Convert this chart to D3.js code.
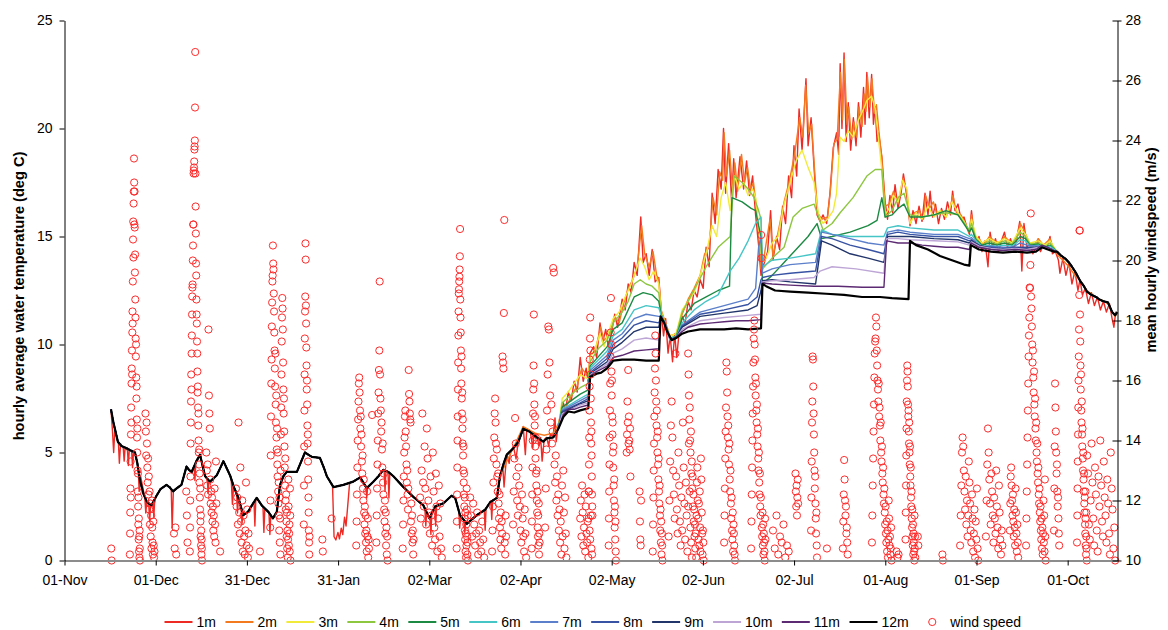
<!DOCTYPE html>
<html>
<head>
<meta charset="utf-8">
<script src="https://cdn.jsdelivr.net/npm/d3@7"></script>
<style>
  body { margin: 0; background: #fff; }
  text { font-family: "Liberation Sans", Arial, sans-serif; }
</style>
</head>
<body>
<svg id="chart" width="1168" height="630"></svg>
<script>
// ---- categories / ticks -------------------------------------------------
const depthNames  = ["1m","2m","3m","4m","5m","6m","7m","8m","9m","10m","11m","12m"];
const depthColors = ["#ee2a24","#f47a20","#f2ea3a","#8dc63f","#1c8a43","#46c5c6",
                     "#5b7fca","#3853a4","#22356b","#bda6d6","#5c2a72","#000000"];
// days after 01-Nov, one major unit (about a month) apart
const tickDays   = [0,30.42,60.83,91.25,121.67,152.08,182.5,212.92,243.33,273.75,304.17,334.58];
const tickLabels = ["01-Nov","01-Dec","31-Dec","31-Jan","02-Mar","02-Apr","02-May","02-Jun","02-Jul","01-Aug","01-Sep","01-Oct"];
const tempTicks  = [0,5,10,15,20,25];
const windTicks  = [10,12,14,16,18,20,22,24,26,28];

// ---- water temperature, [day, deg C] -------------------------------------
// whole column mixed (all loggers read alike) until late April
const tMixed = [[15.5,7.0],[16.3,6.4],[17.8,5.5],[19,5.3],[20.7,5.2],[22,5.1],[23.5,5.0],[24.3,4.5],[25.2,3.7],[26.3,3.1],[27.5,2.7],[29,2.55],[30.7,3.0],[32,3.3],[34,3.5],[35,3.4],[36.2,3.2],[37.5,3.35],[39,3.5],[40.7,4.35],[41.5,4.2],[42.4,4.1],[44,4.6],[45.2,4.9],[46.2,4.3],[46.9,3.9],[48.5,3.65],[50.8,3.95],[52,4.3],[53,4.6],[54,4.3],[55.2,3.95],[56.5,3.4],[58,2.9],[59.6,2.1],[61.2,2.25],[62.7,2.6],[64.1,2.9],[65.8,2.55],[68,2.25],[69.5,1.95],[70.8,2.25],[71.9,3.5],[73,3.9],[74.1,4.1],[77.5,4.1],[79,4.6],[80.2,5.0],[81.3,4.9],[82.5,4.8],[85.2,4.75],[86.5,4.3],[87.5,3.9],[89.7,3.4],[93,3.5],[96.3,3.65],[98.6,3.85],[100.8,3.35],[103,3.65],[104.7,3.9],[106.3,4.2],[108,4.1],[109.7,3.9],[113,3.4],[116.3,2.95],[119.7,2.55],[121.7,1.95],[123.6,2.5],[126.4,2.65],[129.1,3.0],[130.3,2.9],[131.9,2.1],[134.2,1.7],[137.5,2.1],[140.3,2.35],[142,2.7],[144.2,2.9],[145.3,3.95],[146.5,4.5],[147.5,4.9],[149.7,5.2],[151.4,5.5],[153,6.1],[155.3,5.95],[157.5,5.7],[159.7,5.5],[160.8,5.65],[163,5.7],[164.7,6.1]];

// short cold dips seen only by the surface logger in winter
const tSurfaceDips = [
  [[16.0,6.0],[16.4,5.0],[16.8,6.1],[18.0,5.4],[18.3,4.5],[18.7,5.4],[19.6,5.2],[19.9,4.6],[20.2,5.2],[21.0,5.1],[21.3,4.4],[21.6,5.1],[22.4,5.05],[22.7,4.3],[23.0,5.0]],
  [[24.6,4.2],[24.9,3.2],[25.4,3.9],[26.8,2.9],[27.1,2.2],[27.4,2.7],[28.1,2.6],[28.4,1.8],[28.7,2.55],[29.5,2.7],[29.8,2.0],[30.1,2.9]],
  [[35.6,3.3],[35.9,1.5],[36.3,3.2]],
  [[43.2,4.35],[43.5,3.7],[43.8,4.5]],
  [[47.6,3.8],[47.9,3.1],[48.2,3.7]],
  [[55.6,3.8],[56.0,2.6],[56.4,3.45],[57.4,3.1],[57.7,2.2],[58.0,2.9],[58.9,2.45],[59.2,1.7],[59.5,2.15]],
  [[63.2,2.7],[63.5,1.6],[63.8,2.8]],
  [[66.2,2.5],[66.5,1.3],[66.8,2.4]],
  [[68.2,2.2],[68.5,1.2],[68.8,2.1]],
  [[89.4,3.45],[89.9,1.1],[90.5,0.95],[91.2,1.3],[91.7,1.0],[92.3,1.5],[92.8,1.2],[93.4,2.0],[93.9,1.6],[94.5,2.6],[95.1,3.6]],
  [[100.5,3.42],[100.8,2.9],[101.1,3.39]],
  [[106.6,4.2],[106.9,3.2],[107.2,4.15]],
  [[107.9,4.1],[108.2,2.9],[108.5,4.05]],
  [[120.2,2.4],[120.5,1.6],[120.8,2.25]],
  [[121.9,2.0],[122.2,1.2],[122.5,2.15]],
  [[123.5,2.5],[123.8,1.6],[124.1,2.5]],
  [[131.5,2.3],[131.8,1.5],[132.1,2.05]],
  [[133.2,1.87],[133.5,1.3],[133.8,1.77]],
  [[140.0,2.33],[140.3,1.4],[140.6,2.4]],
  [[142.2,2.75],[142.5,1.9],[142.8,2.8]]
];

// per-logger records once the lake stratifies
const t1m = [[145.3,3.9],[146.2,4.3],[146.6,3.4],[147.5,4.95],[148.3,4.5],[148.7,5.0],[149.7,5.3],[150.6,4.7],[151.4,5.6],[152.2,5.9],[153,6.2],[153.7,4.9],[154.2,6.1],[155.3,6.0],[156.2,5.2],[156.6,5.9],[157.5,5.8],[158.3,5.3],[158.8,5.7],[159.3,4.6],[160,5.6],[160.8,5.7],[161.5,5.3],[162,5.8],[163,5.8],[163.6,6.6],[164,5.5],[164.7,6.3],[165.5,6.8],[166.4,7.3],[167,6.8],[168,7.8],[169,7.4],[170,8.3],[171,7.8],[172,9.4],[173,8.3],[174,8.9],[174.7,8.2],[175.3,9.6],[176.5,9.9],[177.5,9.4],[178.6,11.0],[179.5,10.1],[180.5,10.7],[181.5,9.8],[182.5,10.6],[183.5,11.4],[184.5,10.8],[186,12.1],[187,11.6],[188,12.8],[189,12.4],[190,13.8],[191,13.2],[192.2,15.9],[193,13.8],[194,14.2],[195,13.2],[196,14.4],[197,12.9],[198.2,13.1],[199,11.6],[199.8,10.4],[200.5,11.2],[201.3,9.6],[202,10.4],[202.8,9.2],[203.5,10.5],[204.2,9.4],[205,10.6],[206,11.3],[207,11.0],[208,12.0],[209,11.6],[210,12.5],[211,12.2],[212,13.0],[213,12.6],[214,14.5],[215,13.6],[216,17.0],[217,15.6],[218,18.1],[219,17.2],[219.8,20.0],[220.5,17.0],[221.5,19.3],[222.5,16.6],[223.2,18.6],[224,16.8],[225.3,18.7],[226.5,17.2],[227.5,18.5],[228.5,16.9],[229.5,17.8],[230.5,16.0],[231.5,14.6],[232.3,13.2],[233,13.6],[234.5,14.3],[235.5,16.2],[236.3,13.9],[237.5,15.0],[238.5,14.4],[239.5,16.4],[240.5,15.6],[241.5,17.8],[242.5,16.8],[243.3,19.2],[244.2,17.8],[245,20.9],[246,19.0],[247.3,22.3],[248,19.2],[249,20.5],[250,18.2],[251,16.0],[252,15.7],[253,16.0],[254.2,15.6],[255.3,17.0],[256.4,19.1],[257.5,19.8],[258.2,18.8],[258.7,23.0],[259.3,20.0],[260,23.5],[260.7,19.4],[261.4,21.2],[262.2,19.0],[263.1,20.5],[264,19.2],[264.8,21.2],[265.6,19.6],[266.5,21.9],[267,20.2],[267.6,22.6],[268.4,20.5],[269.2,22.5],[269.8,20.2],[270.4,21.0],[271,19.4],[271.5,19.8],[272.6,18.7],[273.7,16.6],[274.5,15.8],[275.3,16.9],[276.2,16.1],[277,17.4],[278,16.3],[279,17.0],[279.8,17.9],[281,16.8],[282,15.5],[283,16.2],[284,15.6],[285,16.4],[286,15.7],[287,17.0],[288,16.0],[288.7,17.1],[289.5,15.9],[290.5,16.5],[291.5,15.6],[292.5,16.3],[293.5,15.8],[294.5,16.6],[295.5,16.0],[296.2,17.1],[297,16.2],[298,16.5],[299,15.8],[300,15.9],[301,15.4],[301.8,15.1],[302.5,16.2],[303.3,15.2],[304.2,14.5],[305,15.0],[306,14.3],[307,14.8],[308,13.6],[308.7,15.2],[309.5,14.5],[310.5,14.9],[311.5,14.3],[312.5,14.8],[313.5,15.2],[314.5,14.5],[315.5,14.9],[316.5,14.4],[317.5,14.8],[318.6,15.7],[319.3,13.4],[320,15.6],[321,14.5],[322,14.7],[323,14.2],[324,14.5],[324.8,14.9],[325.5,14.3],[326.5,14.6],[327.5,14.4],[328.7,15.0],[329.5,14.2],[330.5,14.3],[331.5,13.9],[332,13.3],[333,14.0],[334,13.2],[335,13.8],[336,12.8],[337,13.4],[338,12.5],[338.7,13.0],[339.5,12.3],[340.5,12.6],[341.5,11.9],[342.5,12.4],[343.5,11.8],[344.5,12.2],[345.5,11.6],[346.5,12.0],[347.5,11.5],[348.5,11.9],[349.4,11.2],[350,10.8],[350.6,11.5],[351.2,11.4]];

const t2m = [[145.3,3.95],[150,5.3],[153,6.2],[157,5.9],[160,5.8],[163,5.9],[165,6.4],[167,7.0],[169,7.6],[171,8.1],[172.5,8.9],[174.7,8.5],[175.3,9.5],[177,9.7],[178.8,10.8],[180,10.2],[182,10.5],[183.5,11.3],[185,11.0],[186.5,11.9],[188,12.6],[189.5,13.0],[191,13.6],[192.5,15.5],[193.5,14.2],[195,13.6],[196.3,14.3],[197.5,13.2],[198.2,13.0],[199,11.6],[200.5,11.0],[202,10.4],[204,10.5],[206,11.4],[208,12.1],[210,12.6],[212,13.2],[213.5,14.2],[215,14.5],[216.3,16.8],[217.5,16.0],[218.5,18.0],[219.5,17.6],[220,19.8],[220.8,17.8],[221.8,19.0],[222.8,17.2],[223.6,18.4],[224.5,17.1],[225.8,18.8],[226.8,17.5],[227.8,18.2],[228.8,17.2],[229.8,17.5],[230.8,16.3],[231.6,15.0],[232.3,13.5],[233,13.8],[235.3,15.8],[236.3,14.1],[238,15.2],[240,16.6],[241.8,17.6],[243.5,18.8],[245.2,20.5],[246.3,19.6],[247.2,22.0],[248.2,19.8],[249.2,20.2],[250.2,18.0],[251.2,16.1],[252.5,15.8],[254.5,15.9],[255.5,17.2],[256.6,19.3],[257.7,19.5],[258.8,22.6],[259.5,20.4],[260.1,23.2],[261,20.2],[261.6,21.0],[262.5,19.5],[263.3,20.3],[264.2,19.6],[265,21.0],[266,20.1],[266.7,21.6],[267.3,20.8],[267.8,22.4],[268.6,21.0],[269.3,22.3],[270.2,20.7],[270.8,21.1],[271.6,19.9],[272.6,18.6],[273.7,16.4],[275,16.5],[276.5,17.1],[278,16.5],[279.7,17.7],[281,17.0],[282,15.6],[283.5,16.1],[285,16.2],[286.5,15.8],[287.2,16.9],[288.5,16.3],[289.8,16.6],[291,16.0],[292.5,16.2],[294,15.9],[295.5,16.4],[296.3,16.9],[297.5,16.1],[299,16.0],[300.5,15.6],[301.8,15.2],[302.5,16.0],[303.5,15.0],[305,14.9],[306.5,14.6],[308.5,15.0],[310,14.8],[312,14.7],[313.5,15.0],[315,14.8],[317,14.7],[318.8,15.6],[320,15.3],[321.5,14.8],[323,14.5],[324.8,14.9],[326.5,14.6],[328.7,14.9],[330,14.4],[331.5,14.1],[333,13.9],[335,13.6],[337,13.2],[338.7,13.0],[341,12.5],[343,12.3],[345,12.1],[347,12.0],[348.5,11.8],[349.4,11.5],[350.4,11.3],[351.2,11.5]];

const t3m = [[166,7.5],[168,7.8],[170,8.2],[172,8.6],[174.7,8.4],[175.3,9.4],[177,9.8],[178.6,10.5],[180,9.9],[181,10.4],[183,11.2],[185,11.5],[187,12.2],[189,12.8],[190.5,13.4],[192,14.0],[193.5,13.6],[195,13.0],[196.5,13.4],[198.2,12.8],[199,11.5],[200.5,10.9],[202,10.4],[204,10.5],[206,11.6],[208,12.0],[210,12.4],[212,13.2],[214,14.2],[216,15.5],[217.5,15.0],[219,16.8],[220.5,17.5],[222,16.2],[223.5,17.8],[225,17.2],[226.5,17.5],[228,16.9],[229.5,17.2],[230.5,16.8],[231.5,15.5],[232.3,14.2],[233,13.8],[234,14.0],[236,14.7],[238,15.0],[240,16.5],[242,17.5],[244,18.5],[246,19.0],[248,18.2],[250,17.5],[251.5,16.0],[253,15.6],[254.5,15.8],[256.4,16.2],[257.5,17.0],[258.7,19.6],[260,19.4],[261.4,19.9],[263.1,19.6],[264.8,20.4],[266.5,20.9],[267.6,21.3],[269.2,21.5],[270.4,20.9],[271.5,19.5],[272.6,18.1],[273.7,16.0],[275,16.3],[276.5,16.9],[278,16.6],[279.5,17.6],[281,17.2],[282,15.6],[284,16.1],[286,15.8],[288,16.4],[290,15.9],[292,16.2],[294,15.9],[296,16.6],[298,16.1],[300,15.7],[301.8,15.2],[302.5,15.8],[304,15.0],[306,14.7],[308.5,14.9],[311,14.7],[313.5,14.9],[316,14.7],[318.8,15.4],[320.5,15.1],[322,14.7],[324.8,14.8],[327,14.6],[328.7,14.8]];

const t4m = [[166,7.3],[170,7.8],[172,8.0],[174.7,8.2],[175.3,9.2],[178,9.8],[181,10.2],[183,11.0],[186,11.5],[188,12.0],[190,12.8],[192,13.0],[194,12.8],[196,12.7],[198.2,12.4],[199,11.4],[200.5,10.8],[202,10.3],[204,10.4],[206,11.5],[208,12.0],[211,12.8],[214,13.6],[218,14.5],[222,15.0],[223.3,17.8],[226,17.5],[228,17.2],[230,16.8],[231.5,16.2],[232.3,15.8],[232.8,13.5],[236,14.0],[240,14.5],[243,15.9],[246,16.3],[250,16.5],[251.5,15.9],[253,15.3],[256,15.6],[258.7,16.1],[263,16.8],[267.6,17.8],[270.4,18.1],[272.6,18.1],[273.7,15.9],[276,16.2],[278,16.8],[280,17.0],[282,16.0],[286,15.9],[290,16.0],[294,16.1],[298,16.0],[301.8,15.3],[302.5,15.6],[304,14.9],[306,14.6],[308.5,14.8],[311,14.65],[313.5,14.8],[316,14.65],[318.8,15.2],[320.5,15.0],[322,14.65],[324.8,14.7],[327,14.55],[328.7,14.7]];

const t5m = [[166,7.1],[172,7.7],[174.7,7.9],[175.3,9.0],[181,9.9],[183,10.7],[186,11.0],[190,12.2],[193,12.4],[196,12.3],[198.2,12.0],[199,11.4],[200.5,10.9],[202,10.3],[204,10.35],[206,11.2],[210,11.9],[214,12.2],[218,12.5],[221.8,12.7],[222.6,16.8],[226,16.6],[229,16.3],[230.5,16.2],[231.5,15.5],[232.3,15.0],[232.8,12.8],[236,13.2],[240,13.8],[244,14.4],[248,15.0],[251,15.6],[252.5,14.9],[256,15.0],[262,15.2],[268,15.5],[271,15.75],[272.6,16.8],[273.7,15.9],[276,16.0],[278,16.3],[280,16.5],[282,15.9],[286,15.9],[290,16.0],[294,16.2],[298,16.0],[301.8,15.2],[302.5,15.4],[304,14.85],[306,14.6],[308.5,14.7],[311,14.6],[313.5,14.7],[316,14.6],[318.8,15.0],[320.5,14.9],[322,14.6],[324.8,14.65],[327,14.5],[328.7,14.6]];

const t6m = [[166,7.0],[172,7.5],[174.7,7.7],[175.3,8.9],[181,9.7],[183,10.4],[186,10.7],[190,11.6],[194,11.8],[198.2,11.7],[199,11.35],[200.5,10.9],[202,10.3],[204,10.35],[206,11.0],[210,11.6],[214,12.0],[218,12.3],[222,13.4],[225,14.0],[228,14.8],[230.5,15.6],[232.3,15.9],[232.8,13.6],[236,13.9],[242,14.0],[250.5,14.2],[252.5,15.3],[256,15.1],[262,15.0],[268,15.0],[273.3,15.0],[274.5,15.4],[278,15.5],[282,15.4],[290,15.3],[298,15.3],[301.8,15.0],[302.5,15.1],[304,14.8],[306,14.55],[308.5,14.6],[311,14.55],[313.5,14.6],[316,14.55],[318.8,14.85],[320.5,14.8],[322,14.55],[324.8,14.6],[327,14.45],[328.7,14.55]];

const t7m = [[166,6.95],[172,7.4],[174.7,7.6],[175.3,8.8],[181,9.5],[183,10.2],[186,10.5],[190,11.2],[194,11.4],[198.2,11.3],[199,11.3],[200.5,10.9],[202,10.25],[204,10.3],[206,10.9],[212,11.5],[220,11.8],[228,12.1],[230.5,12.6],[231.5,14.5],[232.3,15.0],[232.8,13.3],[236,13.5],[242,13.7],[250.5,13.8],[252.5,15.2],[256,15.1],[262,14.9],[268,14.7],[273.3,14.6],[274.5,15.2],[278,15.3],[282,15.2],[290,15.1],[298,15.1],[301.8,14.9],[302.5,14.95],[304,14.7],[306,14.5],[309,14.55],[313,14.5],[316,14.5],[318.8,14.7],[321,14.6],[324.8,14.55],[328,14.5]];

const t8m = [[166,6.9],[172,7.3],[174.7,7.5],[175.3,8.7],[181,9.35],[183,10.0],[186,10.3],[190,10.9],[194,11.1],[198.2,11.0],[199,11.3],[200.5,10.9],[202,10.25],[204,10.3],[206,10.85],[212,11.4],[220,11.6],[228,11.85],[231,12.2],[232.3,13.0],[232.8,13.1],[236,13.2],[242,13.3],[250.5,13.4],[252.5,15.0],[256,14.9],[262,14.6],[268,14.4],[273.3,14.2],[274.5,15.1],[278,15.2],[282,15.1],[290,15.0],[298,15.0],[301.8,14.8],[302.5,14.85],[304,14.65],[306,14.5],[309,14.5],[313,14.45],[317,14.5],[321,14.5],[324.8,14.5],[328,14.45]];

const t9m = [[166,6.85],[172,7.25],[174.7,7.4],[175.3,8.65],[181,9.2],[183,9.8],[186,10.1],[190,10.6],[194,10.8],[198.2,10.8],[199,11.3],[200.5,10.9],[202,10.2],[204,10.3],[206,10.8],[212,11.3],[220,11.45],[228,11.6],[231,11.8],[232.3,12.5],[232.8,12.95],[236,13.0],[242,12.9],[250.5,12.8],[252.5,14.8],[256,14.6],[262,14.2],[268,14.0],[273.3,13.8],[274.5,15.0],[278,15.0],[282,15.0],[290,14.9],[298,14.85],[301.8,14.7],[302.5,14.8],[305,14.6],[309,14.45],[313,14.4],[317,14.45],[321,14.45],[325,14.5],[328,14.45]];

const t10m = [[166,6.8],[172,7.2],[174.7,7.3],[175.3,8.6],[181,9.1],[183,9.6],[186,9.8],[190,10.2],[194,10.3],[198.2,10.2],[199,11.3],[200.5,10.9],[202,10.2],[204,10.3],[206,10.7],[212,11.1],[220,11.25],[228,11.35],[232.3,11.4],[232.8,12.9],[236,12.95],[242,13.0],[250,13.1],[252,13.4],[256,13.6],[264,13.5],[273.3,13.3],[274.2,14.9],[278,14.9],[282,14.85],[290,14.8],[298,14.75],[301.8,14.6],[302.5,14.75],[305,14.55],[309,14.45],[313,14.4],[317,14.45],[321,14.4],[325,14.5],[328,14.45]];

const t11m = [[166.4,6.75],[168,7.0],[170,7.0],[172,7.1],[174.7,7.2],[175.3,8.55],[177.5,8.75],[181,9.0],[183,9.4],[186,9.5],[190,9.7],[194,9.75],[198.2,9.8],[198.8,11.3],[200,11.0],[201,10.6],[202.5,10.25],[204,10.35],[206,10.6],[208,10.8],[212,10.95],[216,11.0],[220,11.05],[224,11.1],[228,11.1],[232.3,11.15],[232.8,12.85],[236,12.8],[242,12.75],[250,12.7],[258,12.7],[266,12.65],[273.3,12.65],[274.2,14.8],[278,14.7],[282,14.7],[286,14.6],[290,14.55],[294,14.5],[298,14.5],[301.8,14.4],[302.3,14.7],[305,14.5],[309,14.4],[313,14.35],[317,14.4],[321,14.35],[324,14.4],[326,14.6],[328,14.5],[330,14.35]];

const t12m = [[166.4,6.65],[168,6.9],[170,6.85],[172,6.95],[174.7,7.05],[175.3,8.5],[177.5,8.65],[179,8.7],[181,8.9],[183,9.25],[186,9.3],[190,9.3],[194,9.25],[198.2,9.25],[198.8,11.3],[200,11.0],[201,10.6],[202.5,10.2],[204,10.3],[206,10.5],[208,10.6],[212,10.7],[216,10.7],[220,10.7],[224,10.75],[228,10.7],[232.3,10.75],[232.8,12.8],[234,12.7],[237,12.5],[242,12.45],[248,12.4],[254,12.35],[260,12.3],[266,12.2],[272,12.2],[276,12.15],[281.5,12.1],[282,14.8],[284,14.6],[288,14.4],[292,14.1],[296,13.9],[300,13.7],[301.8,13.65],[302.3,14.6],[305,14.4],[309,14.3],[313,14.25],[317,14.3],[321,14.25],[324,14.3],[326,14.5],[328,14.4],[330,14.3]];

// autumn overturn: the column is mixed again
const tAutumn = [[331,14.3],[332.5,14.1],[334,13.95],[335,13.8],[336,13.6],[337.4,13.3],[338.7,12.95],[340,12.7],[341,12.45],[342.5,12.3],[344,12.2],[345,12.1],[346.5,12.0],[348,11.95],[348.8,11.7],[349.4,11.5],[350.4,11.35],[351.2,11.5]];

const depthRecords = [t1m,t2m,t3m,t4m,t5m,t6m,t7m,t8m,t9m,t10m,t11m,t12m];

// ---- mean hourly wind speed above 10 m/s ---------------------------------
// [first day of the event, hours between kept records, speeds in m/s]
const windStorms = [
  [15.6,3,[10.4,10.0]],
  [21.8,1.5,[10.2,10.9,11.6,12.4,13.3,12.1,14.2,15.1,14.6,15.9,16.4,17.0,16.2,17.6,18.3,17.9,19.3,20.7,21.3,20.1,21.9,22.3,23.4,22.6,21.2,22.3,21.1,19.6,20.2,18.7,18.1,17.4,16.8,17.2,16.1,15.4,15.8,14.7,14.1,13.6,14.4,13.0,12.3,12.9,11.8,11.2,12.1,10.7,11.4,10.3,10.8,10.1,11.0,10.4,10.0]],
  [27.0,3,[14.9,14.3,13.5,14.6,13.9,13.1,12.6,13.4,12.2,12.8,11.7,12.3,11.2,11.9,10.8,11.5,10.4,12.0,11.1,10.6,10.2,11.3,10.5,10.1,10.3]],
  [36.5,6,[10.9,10.4,11.1,10.2]],
  [40.6,5,[12.3,11.5,10.6]],
  [41.8,1.6,[10.3,11.1,12.0,12.8,13.9,14.6,15.3,16.2,15.7,16.9,17.5,18.2,18.8,19.1,19.2,20.0,20.5,21.2,21.2,22.9,23.0,23.1,23.3,23.7,23.8,24.0,25.1,26.95,22.9,21.8,20.9,19.9,19.5,18.7,18.2,17.9,17.3,16.9,16.3,15.6,15.8,15.1,14.5,14.9,14.0,13.6,13.2,13.7,12.6,12.9,12.1,11.7,12.4,11.3,10.8,11.5,10.5,11.0,10.2,10.7,10.4,10.0]],
  [47.3,3.5,[13.6,13.0,12.5,13.2,12.2,17.7,15.5,14.9,14.4,12.7,11.9,12.3,11.6,12.1,11.3,11.8,11.0,11.5,10.8,12.4,11.2,10.6,13.3,11.9]],
  [51.9,3,[10.3]],
  [57.2,5,[12.4,11.8,12.1,11.2,14.6,11.6,10.9,13.1,11.3,10.6,12.0,10.3,11.5,10.8,10.2,11.0,12.6,10.5,11.7,10.1,10.9,10.4]],
  [65.2,3,[10.3]],
  [68.6,2.2,[11.1,12.0,13.5,14.8,15.9,16.7,17.8,18.6,19.3,19.5,20.5,19.9,19.7,18.9,18.3,17.6,17.0,16.4,15.8,16.9,15.2,14.6,15.5,14.1,13.7,14.4,13.2,12.8,13.6,12.3,11.9,12.6,11.5,11.0,12.1,10.6,11.4,10.2,13.0,14.2,15.1,16.2,17.3,18.1,18.75,18.4,17.7,16.6,15.7,14.9,15.4,14.3,13.8,13.1,12.5,13.4,12.0,11.7,12.2,11.3,10.8,11.6,10.4,11.0,10.1,10.7,12.7,11.8,10.5,10.9,11.2,10.3,12.4,11.5,10.0]],
  [79.8,1.7,[11.2,12.5,13.8,15.0,16.2,17.4,18.3,18.8,20.57,20.03,18.5,17.9,17.1,16.5,15.7,16.0,15.2,14.5,13.9,14.2,13.3,12.7,12.1,11.6,11.0,10.6,10.2,10.8]],
  [86.0,4,[10.7,10.3]],
  [89.1,3,[11.4]],
  [97.3,3,[10.5,11.3,12.2,13.1,14.0,14.7,15.3,15.9,16.1,15.6,15.0,14.4,14.8,13.8,14.2,13.3,12.9,13.5,12.4,12.0,12.7,11.6,11.2,11.8,10.9,11.5,10.6,11.0,10.3,12.3,10.8,11.4,10.1,10.7,10.4]],
  [102.6,3,[14.85]],
  [104.0,3,[10.6,11.5,12.4,13.2,14.0,14.9,15.6,16.35,17.0,19.3,16.2,15.4,15.0,14.3,14.6,13.7,13.1,13.9,12.6,12.2,12.9,11.7,11.3,12.0,10.9,11.6,10.5,11.1,10.2,10.8,10.0]],
  [112.8,3,[10.4,11.2,12.0,12.8,13.6,14.1,14.8,15.0,14.3,13.8,13.2,12.6,13.0,12.2,11.7,12.4,16.35,15.55,15.3,14.9,14.7,14.6,11.3,11.9,10.9,11.5,10.6,11.0,10.2,10.7]],
  [118.6,6,[12.1,11.4,13.0,14.9,12.6,11.8,13.8,12.4,11.2,14.4,13.4,12.0,11.6,10.9,12.8,11.5,10.5,13.6,12.3,11.1,10.7,12.9,11.8,10.3,11.4,12.5,10.8,11.9,10.4,10.1]],
  [130.8,1.7,[10.4,11.3,12.2,13.1,14.0,14.8,15.7,16.6,17.5,18.3,18.9,19.04,19.3,19.46,19.7,20.14,21.05,18.7,18.1,17.6,17.0,16.4,15.9,16.8,15.4,14.9,15.6,14.4,13.9,14.7,13.5,13.0,13.8,12.6,12.2,12.9,11.8,11.4,12.1,11.0,10.7,11.6,10.3,10.9,10.1,11.2,10.5,12.4,11.7,10.8,10.2,10.6,11.5,10.0]],
  [135.3,8,[12.1,11.5,10.8,11.9,11.2,10.5,10.9,11.6,10.2,11.0,10.6,10.3,11.3,10.7,10.1]],
  [142.6,3.5,[10.3,11.0,11.8,12.6,13.4,14.1,14.9,15.4,14.6,13.9,13.2,13.7,12.8,12.3,12.9,11.9,11.4,12.2,11.1,10.7,11.6,10.4,11.3,10.9,16.8,16.6,16.4,18.25,21.35,10.6,10.2,11.5,10.8]],
  [149.6,5.5,[11.2,12.3,13.4,14.75,13.9,12.8,12.0,11.5,13.1,12.5,11.8,11.0,10.6,12.2,11.4,10.8,10.3,11.7,10.9,10.1]],
  [155.8,2.2,[10.4,11.3,12.2,13.1,14.0,14.9,15.7,16.5,18.2,15.9,15.2,14.5,14.8,13.8,13.4,14.1,12.9,12.5,13.0,12.0,11.6,12.3,11.1,10.8,11.5,10.5,11.9,10.2,10.9,10.6]],
  [160.3,5,[11.1,12.4,13.7,15.0,16.2,17.8,17.7,16.6,15.5,14.6,15.2,13.9,14.3,19.75,19.6,13.2,12.6,13.5,12.0,12.8,11.5,12.2,11.0,11.7,10.6,11.3,10.2,12.5,10.8,13.0,11.6,10.4,12.1,10.9,10.1]],
  [172,5,[11.4,12.0,10.8,12.5,11.6,10.5,11.1,12.2,10.3,11.8,10.9,10.6,11.3,10.1,12.3,11.0,10.7,11.5,10.4,10.2]],
  [174.8,1.6,[11.4,12.3,13.2,14.1,15.0,15.8,16.7,17.4,18.1,17.0,16.2,15.4,14.6,13.9,14.3,13.5,12.8,12.2,11.8,11.5]],
  [181.5,2,[10.5,11.4,12.3,13.2,14.1,15.0,15.9,16.8,17.6,18.75,17.2,16.3,15.5,16.0,14.8,14.2,14.6,13.6,13.1,13.8,12.5,12.0,12.7,11.6,11.1,11.8,10.7,11.3,10.3,10.0]],
  [187.5,3,[13.6,14.2,15.3,14.6,16.35,13.9,14.8,14.0,13.7,14.4,12.8]],
  [191.8,3,[12.3,11.3,10.7,10.5,12.0]],
  [196.2,2.5,[10.3,11.2,12.1,13.0,13.9,14.8,15.6,16.4,17.5,16.9,16.0,15.3,14.5,15.0,14.1,13.6,14.3,13.2,12.7,13.4,12.3,11.9,12.5,11.5,11.0,11.7,10.6,11.3,10.2,10.9,10.5,10.0]],
  [201.5,6,[10.8,12.0,13.3,14.5,15.3,14.1,13.0,12.2,11.4,16.9,12.8,11.7,10.9,13.6,12.5,11.3,10.5,12.1,11.0,14.6,13.1,11.9,10.7,12.6,11.5,10.3,11.8,13.9,12.3,11.1,10.6,10.1]],
  [208.0,3.2,[16.9,16.2,15.5,14.7,15.1,14.0,13.6,14.3,12.9,13.3,12.4,12.8,11.8,12.2,11.3,11.7,10.8,11.2,10.4,10.9,10.1,11.5,12.6,13.1,12.0,11.4,10.7,11.9,10.5,12.3,11.1,10.3,13.4,12.7,11.6,10.9,10.2,11.0,10.6,10.0]],
  [220.0,3,[10.6,11.5,12.4,13.4,14.3,15.1,16.6,16.3,15.6,14.8,14.1,14.5,13.7,13.2,13.9,12.7,12.3,13.0,11.9,11.4,12.1,11.0,10.7,11.6,10.3,11.2,10.9,10.5,10.2,10.0]],
  [229.0,2.6,[10.4,11.3,12.2,13.1,14.0,14.9,15.8,16.6,17.4,17.7,18.0,17.2,16.7,16.1,15.5,15.9,15.0,14.6,15.2,14.2,13.8,14.4,13.4,13.0,13.6,12.6,12.2,12.9,11.8,11.5,12.1,20.85,20.08,11.1,10.8,11.6,10.5,11.2,10.2,10.9,10.6,10.3,10.0,11.4,10.7]],
  [236.3,14,[11.0,10.4,11.5,10.2,10.8,10.6,11.2,10.1,10.5,10.3]],
  [243.8,3,[12.9,12.3,11.8,12.5,11.5,12.1,12.7,11.9]],
  [249.0,2.5,[11.0,12.1,13.3,14.6,15.3,16.8,16.7,15.8,14.9,14.2,13.6,13.0,12.4,12.8,11.9,11.4,10.9,11.6,10.5,10.1]],
  [254.3,3,[10.4]],
  [259.6,3.5,[10.4,11.3,12.2,13.35,12.7,12.0,11.5,11.8,10.9,11.1,10.6,10.2]],
  [269.3,3.2,[10.6,11.5,12.5,13.4,14.3,15.2,16.1,16.9,17.3,17.4,18.1,17.8,17.0,16.5,16.0,15.7,15.3,15.9,14.8,15.1,14.5,14.0,14.6,13.6,13.3,13.8,12.9,12.6,13.1,12.2,11.9,12.4,11.6,11.2,11.8,10.9,10.6,11.3,10.3,11.0,10.1,10.7,12.0,11.4,10.5,10.8,10.2,10.4,11.1,10.0]],
  [277.5,8,[10.3,10.1,10.2]],
  [280.5,2,[10.7,11.6,12.5,13.5,14.4,15.3,16.0,16.5,16.3,15.8,15.2,14.8,15.0,14.3,13.9,14.6,13.6,13.2,13.8,12.8,12.5,13.1,12.1,11.8,12.3,11.4,11.1,11.7,10.8,10.5,11.2,10.2,10.9,10.6,10.3,10.0,11.5,10.4,10.8,10.1]],
  [284.6,4,[10.8,10.5]],
  [292.8,4,[10.2,10.0]],
  [298.7,5,[10.5,11.5,12.5,13.6,14.1,13.8,13.0,12.3,11.7,12.8,11.2,12.0,10.8,11.5,13.3,12.6,11.9,11.0,10.6,12.2,11.4,10.3,10.9,11.7,10.1,11.3,10.7,12.4,10.4,10.0]],
  [307.3,5.5,[10.8,12.0,13.2,14.4,13.6,12.7,11.9,11.2,12.9,12.3,11.5,10.6,12.1,11.4,10.9,13.0,11.8,11.1,10.4,12.5,11.6,10.7,10.2,11.0,10.5]],
  [315.3,3.5,[11.0,11.9,12.8,13.1,12.5,12.0,11.5,12.2,11.3,10.8,11.7,11.1,10.5,12.4,11.6,10.9,10.3,11.2,10.6,10.1]],
  [320.7,2.9,[10.5,11.4,12.3,13.2,14.1,15.0,15.9,16.8,17.5,18.1,19.1,19.08,19.85,21.57,18.8,18.4,17.8,17.2,16.6,17.0,16.1,15.6,16.3,15.2,14.8,15.4,14.4,14.0,14.6,13.6,13.3,13.9,12.9,12.6,13.1,12.2,11.9,12.4,11.6,11.3,11.8,11.0,10.7,11.4,10.4,11.1,10.2,10.9,12.0,10.6,11.5,10.3,12.7,10.8,10.0]],
  [330.0,3,[11.0,12.4,13.8,15.9,15.1,14.3,13.6,12.9,13.2,12.3,11.8,12.1,11.4,10.9,10.5]],
  [337.7,2,[10.6,11.5,12.4,13.3,14.2,15.1,16.0,16.8,17.7,18.85,21.0,21.0,18.2,17.3,16.5,15.7,16.2,15.0,14.6,15.3,14.2,13.8,14.4,13.4,13.0,13.6,12.7,12.3,12.9,11.9,11.6,12.1,11.2,10.9,11.4,10.5,10.2,10.8,10.4,10.0]],
  [340.5,7,[12.3,11.6,13.5,12.9,11.2,10.7,12.0,13.9,12.6,11.4,10.5,13.1,12.2,11.0,10.3,12.8,11.8,14.0,12.5,11.3,10.8,13.3,12.1,11.5,10.6,12.7,11.9,10.9,10.2,13.6,12.4,11.7,10.4,11.1,10.0]]
];

// ---- layout ---------------------------------------------------------------
const svg = d3.select("#chart");
const plot = { left: 64.5, right: 1117.5, top: 20.5, bottom: 560.5 };

const x  = d3.scaleLinear().domain([0, 351.2]).range([plot.left, plot.right]);
const yT = d3.scaleLinear().domain([0, 25]).range([plot.bottom, plot.top]);
const yW = d3.scaleLinear().domain([10, 28]).range([plot.bottom, plot.top]);

svg.append("defs").append("clipPath").attr("id", "plotClip")
  .append("rect").attr("x", plot.left).attr("y", 0)
  .attr("width", plot.right - plot.left).attr("height", plot.bottom + 6);

// build each logger's full record from the shared mixed / overturn stretches
function fullRecord(i) {
  const own = depthRecords[i];
  const start = own[0][0], end = own[own.length - 1][0];
  let head = tMixed.filter(d => d[0] < start);
  if (i === 0) {
    const inDip = d => tSurfaceDips.some(c => d[0] >= c[0][0] && d[0] <= c[c.length - 1][0]);
    head = head.filter(d => !inDip(d)).concat(...tSurfaceDips.map(c => c.filter(d => d[0] < start)));
    head.sort((a, b) => a[0] - b[0]);
  }
  const tail = tAutumn.filter(d => d[0] > end);
  return head.concat(own, tail);
}

const line = d3.line().x(d => x(d[0])).y(d => yT(d[1]));
const gLines = svg.append("g").attr("clip-path", "url(#plotClip)");
depthNames.forEach((name, i) => {
  gLines.append("path")
    .datum(fullRecord(i))
    .attr("fill", "none")
    .attr("stroke", depthColors[i])
    .attr("stroke-width", i === 11 ? 2.2 : 1.4)
    .attr("stroke-linejoin", "round")
    .attr("d", line);
});

// wind points
const windPoints = [];
windStorms.forEach(([day0, step, speeds]) => {
  speeds.forEach((w, k) => windPoints.push([day0 + k * step / 24, w]));
});
svg.append("g").selectAll("circle")
  .data(windPoints).join("circle")
  .attr("cx", d => x(d[0]))
  .attr("cy", d => yW(d[1]))
  .attr("r", 3.6)
  .attr("fill", "none")
  .attr("stroke", "#ff2a2a")
  .attr("stroke-width", 1);

// ---- axes ---------------------------------------------------------------
const axisFont = g => g.selectAll("text")
  .style("font-family", "'Liberation Sans', Arial, sans-serif")
  .style("font-size", "14px").attr("fill", "#000");

svg.append("g").attr("transform", `translate(0,${plot.bottom})`)
  .call(d3.axisBottom(x).tickValues(tickDays).tickFormat((d, i) => tickLabels[i])
    .tickSize(5).tickSizeOuter(0).tickPadding(10))
  .call(g => g.select(".domain").attr("stroke", "#8c8c8c").attr("stroke-width", 2))
  .call(g => g.selectAll(".tick line").attr("stroke", "#000"))
  .call(axisFont);

svg.append("g").attr("transform", `translate(${plot.left},0)`)
  .call(d3.axisLeft(yT).tickValues(tempTicks).tickSize(5).tickSizeOuter(0).tickPadding(7))
  .call(g => g.select(".domain").attr("stroke", "#000"))
  .call(axisFont);

svg.append("g").attr("transform", `translate(${plot.right},0)`)
  .call(d3.axisRight(yW).tickValues(windTicks).tickSize(4).tickSizeOuter(0).tickPadding(4))
  .call(g => g.select(".domain").attr("stroke", "#000"))
  .call(g => g.selectAll(".tick line").attr("x1", -5))
  .call(axisFont);

svg.append("text")
  .attr("transform", "translate(24,296) rotate(-90)")
  .attr("text-anchor", "middle")
  .style("font-size", "14.6px").style("font-weight", "bold")
  .text("hourly average water temperature (deg C)");

svg.append("text")
  .attr("transform", "translate(1156,250) rotate(-90)")
  .attr("text-anchor", "middle")
  .style("font-size", "14.6px").style("font-weight", "bold")
  .text("mean hourly windspeed (m/s)");

// ---- legend ---------------------------------------------------------------
const legend = svg.append("g").attr("transform", "translate(164.5,622)");
let lx = 0;
depthNames.forEach((name, i) => {
  legend.append("line").attr("x1", lx).attr("x2", lx + 28).attr("y1", 0).attr("y2", 0)
    .attr("stroke", depthColors[i]).attr("stroke-width", 2);
  const t = legend.append("text").attr("x", lx + 32).attr("y", 5).style("font-size", "14px").text(name);
  lx += 32 + t.node().getComputedTextLength() + 9.5;
});
legend.append("circle").attr("cx", lx + 14).attr("cy", 0).attr("r", 3.6)
  .attr("fill", "none").attr("stroke", "#ff2a2a");
legend.append("text").attr("x", lx + 32).attr("y", 5).style("font-size", "14px").text("wind speed");
</script>
</body>
</html>
